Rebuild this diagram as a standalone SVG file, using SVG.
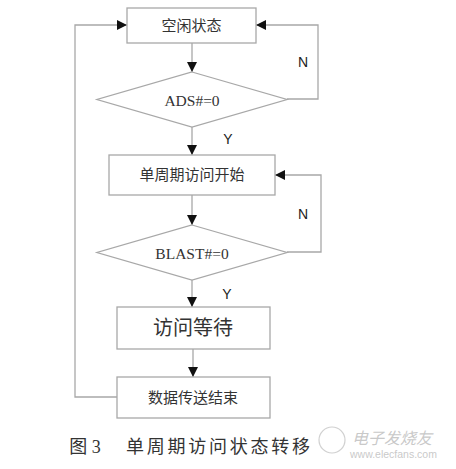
<svg xmlns="http://www.w3.org/2000/svg" width="456" height="469" viewBox="0 0 456 469">
<style>
.box{fill:#fff;stroke:#a8a8a8;stroke-width:1.3}
.ln{fill:none;stroke:#a8a8a8;stroke-width:1.3}
.cn{font-family:"Liberation Serif","Noto Sans CJK SC",serif;fill:#333;text-anchor:middle;dominant-baseline:central}
.en{font-family:"Liberation Serif",serif;fill:#333;font-size:15.5px;text-anchor:middle;dominant-baseline:central}
.lb{font-family:"Liberation Sans",sans-serif;fill:#222;font-size:14px;text-anchor:middle;dominant-baseline:central}
</style>
<defs>
<marker id="ah" viewBox="0 0 10 10" refX="10" refY="5" markerWidth="10" markerHeight="10" markerUnits="userSpaceOnUse" orient="auto">
<path d="M0,0 L10,5 L0,10 Z" fill="#111"/>
</marker>
</defs>
<rect width="456" height="469" fill="#fff"/>
<g id="connectors">
<line class="ln" x1="192" y1="43" x2="192" y2="72" marker-end="url(#ah)"/>
<line class="ln" x1="192" y1="127" x2="192" y2="155" marker-end="url(#ah)"/>
<line class="ln" x1="192" y1="195" x2="192" y2="225" marker-end="url(#ah)"/>
<line class="ln" x1="192" y1="280" x2="192" y2="307" marker-end="url(#ah)"/>
<line class="ln" x1="193" y1="349" x2="193" y2="377" marker-end="url(#ah)"/>
<polyline class="ln" points="287,99 318,99 318,25 256,25" marker-end="url(#ah)"/>
<polyline class="ln" points="287,252 321,252 321,175 275,175" marker-end="url(#ah)"/>
<polyline class="ln" points="117,397 75,397 75,25 127,25" marker-end="url(#ah)"/>
<text class="lb" x="303" y="62">N</text>
<text class="lb" x="228" y="139">Y</text>
<text class="lb" x="303" y="214">N</text>
<text class="lb" x="227" y="294">Y</text>
</g>
<g id="n1">
<rect class="box" x="127" y="8" width="129" height="35"/>
<text class="cn" x="191.5" y="25.5" font-size="15">空闲状态</text>
</g>
<g id="n2">
<polygon class="box" points="192,72 287,99.5 192,127 97,99.5"/>
<text class="en" x="192" y="100">ADS#=0</text>
</g>
<g id="n3">
<rect class="box" x="109" y="155" width="166" height="40"/>
<text class="cn" x="192" y="174.5" font-size="15">单周期访问开始</text>
</g>
<g id="n4">
<polygon class="box" points="192,225 287,252.5 192,280 97,252.5"/>
<text class="en" x="192" y="253">BLAST#=0</text>
</g>
<g id="n5">
<rect class="box" x="117" y="307" width="153" height="42"/>
<text class="cn" x="193" y="328" font-size="20">访问等待</text>
</g>
<g id="n6">
<rect class="box" x="117" y="377" width="153" height="41"/>
<text class="cn" x="193" y="397.5" font-size="15">数据传送结束</text>
</g>
<g id="caption">
<text class="cn" x="85" y="447" font-size="18">图 3</text>
<text class="cn" x="218" y="447" font-size="18" textLength="184" lengthAdjust="spacing">单周期访问状态转移</text>
</g>
<g id="watermark" opacity="0.45">
<circle cx="332" cy="440" r="13" fill="none" stroke="#999" stroke-width="1.2"/>
<text x="352" y="444" font-family="'Noto Sans CJK SC',sans-serif" font-size="16" font-style="italic" fill="#888">电子发烧友</text>
<text x="350" y="458" font-family="'Liberation Sans',sans-serif" font-size="10.5" fill="#888">www.elecfans.com</text>
</g>
</svg>
